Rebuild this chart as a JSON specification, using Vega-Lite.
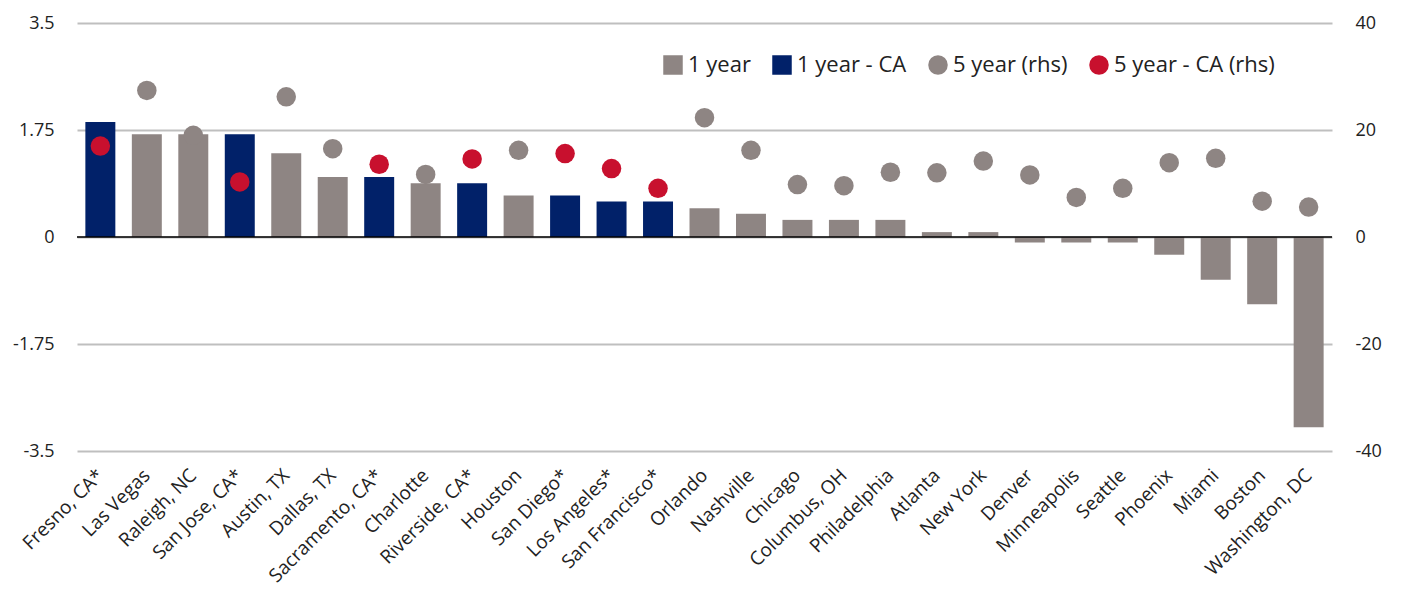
{
  "$schema": "https://vega.github.io/schema/vega-lite/v6.json",
  "width": 1255,
  "height": 428,
  "autosize": {"type": "none"},
  "padding": {"left": 77, "top": 23, "right": 69, "bottom": 138},
  "background": "white",
  "config": {
    "view": {"stroke": null},
    "font": "Open Sans",
    "axis": {"labelColor": "#222222", "labelFont": "Open Sans", "domain": false, "ticks": false, "title": null},
    "legend": {"labelFont": "Open Sans"}
  },
  "data": {
    "values": [
      {"city": "Fresno, CA*", "series": "1 year - CA", "value": 1.88},
      {"city": "Las Vegas", "series": "1 year", "value": 1.68},
      {"city": "Raleigh, NC", "series": "1 year", "value": 1.68},
      {"city": "San Jose, CA*", "series": "1 year - CA", "value": 1.68},
      {"city": "Austin, TX", "series": "1 year", "value": 1.37},
      {"city": "Dallas, TX", "series": "1 year", "value": 0.98},
      {"city": "Sacramento, CA*", "series": "1 year - CA", "value": 0.98},
      {"city": "Charlotte", "series": "1 year", "value": 0.88},
      {"city": "Riverside, CA*", "series": "1 year - CA", "value": 0.88},
      {"city": "Houston", "series": "1 year", "value": 0.68},
      {"city": "San Diego*", "series": "1 year - CA", "value": 0.68},
      {"city": "Los Angeles*", "series": "1 year - CA", "value": 0.58},
      {"city": "San Francisco*", "series": "1 year - CA", "value": 0.58},
      {"city": "Orlando", "series": "1 year", "value": 0.47},
      {"city": "Nashville", "series": "1 year", "value": 0.38},
      {"city": "Chicago", "series": "1 year", "value": 0.28},
      {"city": "Columbus, OH", "series": "1 year", "value": 0.28},
      {"city": "Philadelphia", "series": "1 year", "value": 0.28},
      {"city": "Atlanta", "series": "1 year", "value": 0.08},
      {"city": "New York", "series": "1 year", "value": 0.08},
      {"city": "Denver", "series": "1 year", "value": -0.09},
      {"city": "Minneapolis", "series": "1 year", "value": -0.09},
      {"city": "Seattle", "series": "1 year", "value": -0.09},
      {"city": "Phoenix", "series": "1 year", "value": -0.29},
      {"city": "Miami", "series": "1 year", "value": -0.7},
      {"city": "Boston", "series": "1 year", "value": -1.1},
      {"city": "Washington, DC", "series": "1 year", "value": -3.11},
      {"city": "Fresno, CA*", "series": "5 year - CA (rhs)", "value": 17.0},
      {"city": "Las Vegas", "series": "5 year (rhs)", "value": 27.4},
      {"city": "Raleigh, NC", "series": "5 year (rhs)", "value": 19.0},
      {"city": "San Jose, CA*", "series": "5 year - CA (rhs)", "value": 10.3},
      {"city": "Austin, TX", "series": "5 year (rhs)", "value": 26.2},
      {"city": "Dallas, TX", "series": "5 year (rhs)", "value": 16.5},
      {"city": "Sacramento, CA*", "series": "5 year - CA (rhs)", "value": 13.6},
      {"city": "Charlotte", "series": "5 year (rhs)", "value": 11.7},
      {"city": "Riverside, CA*", "series": "5 year - CA (rhs)", "value": 14.6},
      {"city": "Houston", "series": "5 year (rhs)", "value": 16.2},
      {"city": "San Diego*", "series": "5 year - CA (rhs)", "value": 15.6},
      {"city": "Los Angeles*", "series": "5 year - CA (rhs)", "value": 12.8},
      {"city": "San Francisco*", "series": "5 year - CA (rhs)", "value": 9.1},
      {"city": "Orlando", "series": "5 year (rhs)", "value": 22.3},
      {"city": "Nashville", "series": "5 year (rhs)", "value": 16.2},
      {"city": "Chicago", "series": "5 year (rhs)", "value": 9.8},
      {"city": "Columbus, OH", "series": "5 year (rhs)", "value": 9.6},
      {"city": "Philadelphia", "series": "5 year (rhs)", "value": 12.1},
      {"city": "Atlanta", "series": "5 year (rhs)", "value": 12.0},
      {"city": "New York", "series": "5 year (rhs)", "value": 14.2},
      {"city": "Denver", "series": "5 year (rhs)", "value": 11.6},
      {"city": "Minneapolis", "series": "5 year (rhs)", "value": 7.4},
      {"city": "Seattle", "series": "5 year (rhs)", "value": 9.1},
      {"city": "Phoenix", "series": "5 year (rhs)", "value": 13.9},
      {"city": "Miami", "series": "5 year (rhs)", "value": 14.7},
      {"city": "Boston", "series": "5 year (rhs)", "value": 6.7},
      {"city": "Washington, DC", "series": "5 year (rhs)", "value": 5.6}
    ]
  },
  "layer": [
    {
      "transform": [{"filter": "datum.series === '1 year' || datum.series === '1 year - CA'"}],
      "mark": {"type": "bar"},
      "encoding": {
        "x": {
          "field": "city", "type": "nominal", "sort": null,
          "scale": {"paddingInner": 0.355, "paddingOuter": 0.18},
          "axis": {"labelAngle": -45, "labelAlign": "right", "labelBaseline": "middle", "labelFontSize": 19, "labelPadding": 21}
        },
        "y": {
          "field": "value", "type": "quantitative", "stack": null,
          "scale": {"domain": [-3.5, 3.5], "nice": false},
          "axis": {"orient": "left", "values": [-3.5, -1.75, 0, 1.75, 3.5], "labelExpr": "toString(datum.value)", "grid": true, "gridColor": "#BFBFBF", "gridWidth": 2, "labelPadding": 23, "labelFontSize": 18}
        },
        "color": {
          "field": "series", "type": "nominal",
          "scale": {"domain": ["1 year", "1 year - CA", "5 year (rhs)", "5 year - CA (rhs)"], "range": ["#8E8583", "#012169", "#8E8583", "#C8102E"]},
          "legend": {"title": null, "orient": "none", "legendX": 585, "legendY": 31, "direction": "horizontal", "labelFontSize": 22, "labelColor": "#222222", "labelLimit": 0, "columnPadding": 20, "labelOffset": 4, "symbolStrokeWidth": 0, "symbolOpacity": 1}
        }
      }
    },
    {
      "data": {"values": [{}]},
      "mark": {"type": "rule", "color": "#000000", "strokeWidth": 1.6},
      "encoding": {
        "y": {"datum": 0, "type": "quantitative", "scale": {"domain": [-3.5, 3.5], "nice": false}, "axis": null}
      }
    },
    {
      "transform": [{"filter": "datum.series === '5 year (rhs)' || datum.series === '5 year - CA (rhs)'"}],
      "mark": {"type": "point", "filled": true, "opacity": 1},
      "encoding": {
        "x": {"field": "city", "type": "nominal", "sort": null},
        "y": {
          "field": "value", "type": "quantitative",
          "scale": {"domain": [-40, 40], "nice": false},
          "axis": {"orient": "right", "values": [-40, -20, 0, 20, 40], "labelExpr": "toString(datum.value)", "grid": false, "labelPadding": 23, "labelFontSize": 18}
        },
        "color": {
          "field": "series", "type": "nominal",
          "scale": {"domain": ["1 year", "1 year - CA", "5 year (rhs)", "5 year - CA (rhs)"], "range": ["#8E8583", "#012169", "#8E8583", "#C8102E"]}
        },
        "shape": {
          "field": "series", "type": "nominal",
          "scale": {"domain": ["1 year", "1 year - CA", "5 year (rhs)", "5 year - CA (rhs)"], "range": ["square", "square", "circle", "circle"]}
        },
        "size": {
          "field": "series", "type": "ordinal",
          "scale": {"domain": ["1 year", "1 year - CA", "5 year (rhs)", "5 year - CA (rhs)"], "range": [380, 380, 130, 130]}
        }
      }
    }
  ],
  "resolve": {"scale": {"y": "independent"}}
}
